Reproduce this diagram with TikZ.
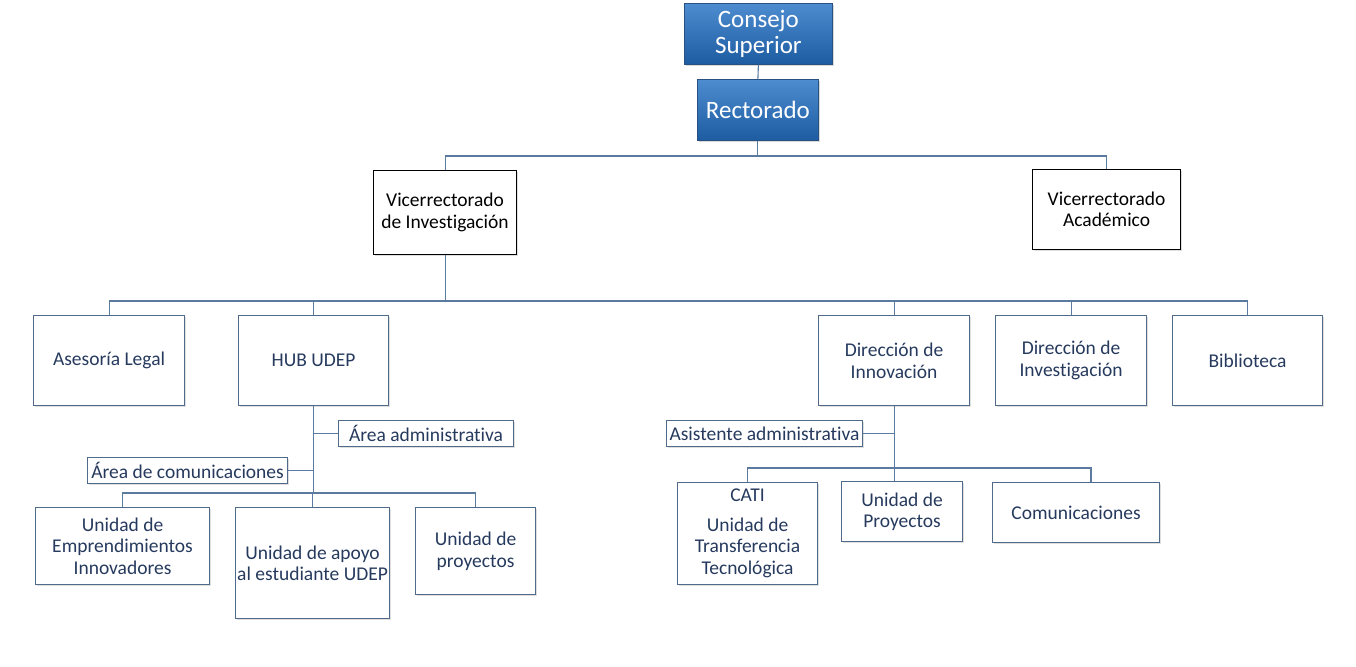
\documentclass[tikz,border=0pt]{standalone}
\usepackage{fontspec}
\setmainfont[RawFeature={-liga}]{Carlito}
\usetikzlibrary{shadows}
\definecolor{txtc}{RGB}{38,58,94}
\definecolor{bordc}{RGB}{80,106,140}
\definecolor{linec}{RGB}{90,122,160}
\definecolor{topc}{RGB}{78,140,208}
\definecolor{botc}{RGB}{30,92,162}
\definecolor{topbord}{RGB}{40,80,130}
\begin{document}
\begin{tikzpicture}[x=1pt,y=-1pt,
  bx/.style={draw=bordc, line width=1.1pt, fill=white, text=txtc, align=center, inner sep=0pt,
     anchor=north west, font=\fontsize{19.5}{21.5}\selectfont,
     drop shadow={opacity=0.25, shadow xshift=1.5pt, shadow yshift=-1.5pt}},
  vbx/.style={bx, draw=black, text=black},
  tbx/.style={draw=topbord, line width=0.8pt, top color=topc, bottom color=botc, text=white, align=center,
     inner sep=0pt, anchor=north west, font=\fontsize{25}{26}\selectfont,
     drop shadow={opacity=0.3, shadow xshift=2pt, shadow yshift=-2pt}},
  cn/.style={draw=linec, line width=1.1pt}]
\useasboundingbox (0,0) rectangle (1356,666);

\node[tbx, minimum width=148pt, minimum height=61pt] (cs) at (684,3) {Consejo\\Superior};
\node[tbx, minimum width=121pt, minimum height=61pt] (rec) at (697,79) {Rectorado};

\node[vbx, minimum width=143pt, minimum height=84pt] (vi) at (373,170) {Vicerrectorado\\de Investigación};
\node[vbx, minimum width=148pt, minimum height=80pt] (va) at (1032,169) {Vicerrectorado\\Académico};

\node[bx, minimum width=151pt, minimum height=90pt] (al) at (33,315) {Asesoría Legal};
\node[bx, minimum width=150pt, minimum height=90pt] (hub) at (238,315) {HUB UDEP};
\node[bx, minimum width=151pt, minimum height=90pt] (din) at (818,315) {Dirección de\\Innovación};
\node[bx, minimum width=151pt, minimum height=90pt] (dinv) at (995,315) {Dirección de\\Investigación};
\node[bx, minimum width=150pt, minimum height=90pt] (bib) at (1172,315) {Biblioteca};

\node[bx, minimum width=175pt, minimum height=26pt] (aa) at (338,420) {Área administrativa};
\node[bx, minimum width=200pt, minimum height=26pt] (ac) at (87,457) {Área de comunicaciones};
\node[bx, minimum width=196pt, minimum height=26pt] (asis) at (666,420) {Asistente administrativa};

\node[bx, minimum width=174pt, minimum height=77pt] (ue) at (35,507) {Unidad de\\Emprendimientos\\Innovadores};
\node[bx, minimum width=154pt, minimum height=111pt] (ua) at (235,507) {Unidad de apoyo\\al estudiante UDEP};
\node[bx, minimum width=120pt, minimum height=87pt] (up) at (415,507) {Unidad de\\proyectos};

\node[bx, minimum width=140pt, minimum height=102pt] (cati) at (677,482) {CATI\\[8pt]Unidad de\\Transferencia\\Tecnológica};
\node[bx, minimum width=121pt, minimum height=60pt] (upr) at (841,481) {Unidad de\\Proyectos};
\node[bx, minimum width=167pt, minimum height=60pt] (com) at (992,482) {Comunicaciones};

\coordinate (b1) at (758,156);
\coordinate (b2) at (444,301);
\coordinate (b3) at (313,493);
\coordinate (b4) at (894,468);
\coordinate (c4) at (1091,468);

\draw[cn] (cs.south) -- (rec.north);
\draw[cn] (rec.south) -- (rec.south |- b1);
\draw[cn] (vi.north) -- (vi.north |- b1) -- (va.north |- b1) -- (va.north);

\draw[cn] (vi.south) -- (vi.south |- b2);
\draw[cn] (al.north) -- (al.north |- b2) -- (bib.north |- b2) -- (bib.north);
\draw[cn] (hub.north) -- (hub.north |- b2);
\draw[cn] (din.north) -- (din.north |- b2);
\draw[cn] (dinv.north) -- (dinv.north |- b2);

\draw[cn] (hub.south) -- (hub.south |- b3);
\draw[cn] (aa.west) -- (aa.west -| hub.south);
\draw[cn] (ac.east) -- (ac.east -| hub.south);
\draw[cn] (ue.north) -- (ue.north |- b3) -- (up.north |- b3) -- (up.north);
\draw[cn] (ua.north) -- (ua.north |- b3);

\draw[cn] (din.south) -- (din.south |- upr.north);
\draw[cn] (asis.east) -- (asis.east -| din.south);
\draw[cn] (cati.north) -- (cati.north |- b4) -- (c4) -- (c4 |- com.north);
\end{tikzpicture}
\end{document}
